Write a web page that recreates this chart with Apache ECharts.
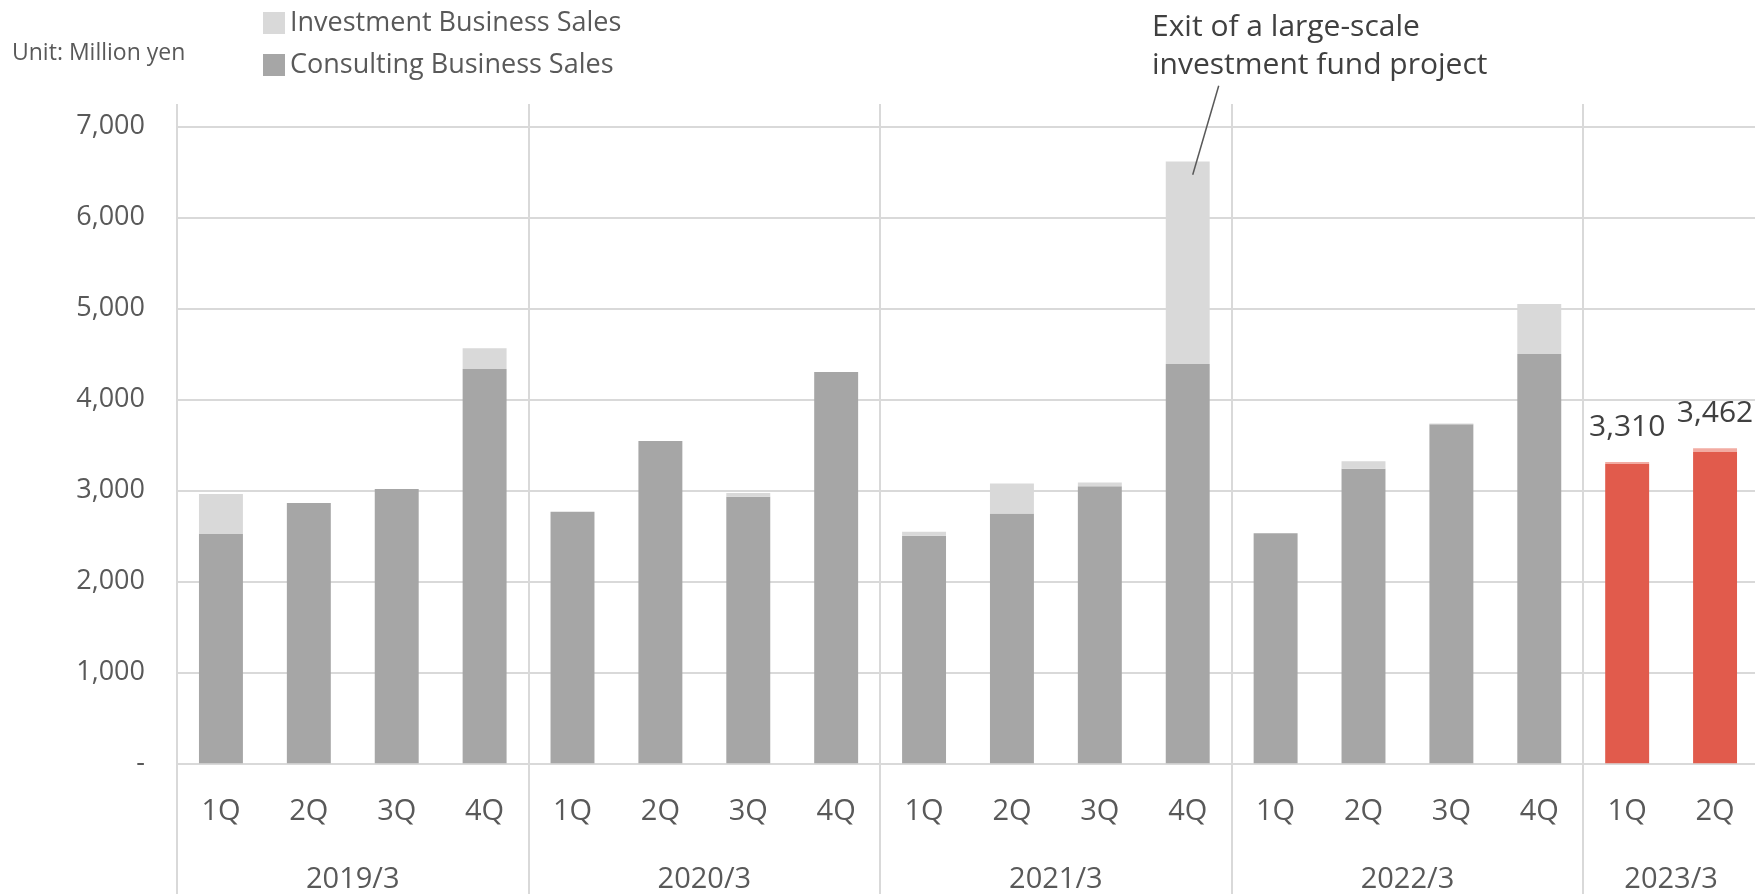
<!DOCTYPE html>
<html>
<head>
<meta charset="utf-8">
<style>
  html, body { margin: 0; padding: 0; background: #ffffff; }
  #chart { width: 1755px; height: 894px; }
</style>
<script src="https://cdn.jsdelivr.net/npm/echarts@6/dist/echarts.min.js"></script>
</head>
<body>
<div id="chart"></div>
<script>
// ---- data ----
const quarters = ['1Q','2Q','3Q','4Q','1Q','2Q','3Q','4Q','1Q','2Q','3Q','4Q','1Q','2Q','3Q','4Q','1Q','2Q'];
const years = ['2019/3','2020/3','2021/3','2022/3','2023/3'];
const yearSizes = [4, 4, 4, 4, 2];
const consulting = [2520, 2860, 3015, 4333, 2765, 3542, 2930, 4300, 2500, 2745, 3045, 4388, 2527, 3237, 3725, 4498, 3290, 3420];
const investment = [440, 0, 0, 227, 0, 0, 40, 0, 45, 330, 40, 2225, 0, 82, 10, 549, 20, 42];
const highlightFrom = 16; // current fiscal year quarters shown in red
const annotationText = 'Exit of a large-scale\ninvestment fund project';
const annotationIndex = 11;

const FONT = '"Open Sans", "Noto Sans", sans-serif';
const GRAY_DARK = '#a6a6a6', GRAY_LIGHT = '#d9d9d9', RED = '#e15b4c', RED_LIGHT = '#f2aba2';
const GRID_LINE = '#d9d9d9';

// year label positions (midpoints of groups, in category units)
const yearPos = [];
let acc = 0;
yearSizes.forEach(s => { yearPos.push(acc + s / 2); acc += s; });
const nCat = quarters.length;

const totals = consulting.map((v, i) => v + investment[i]);

const consultingData = consulting.map((v, i) => i >= highlightFrom ? { value: v, itemStyle: { color: RED } } : v);
const investmentData = investment.map((v, i) => {
  if (i >= highlightFrom) {
    return { value: v, itemStyle: { color: RED_LIGHT },
      label: { show: true, position: 'top', distance: 20, formatter: () => totals[i].toLocaleString('en-US'),
               fontSize: 30, color: '#404040', fontFamily: FONT } };
  }
  return v;
});

const GL = 177, GR = -4;

const chart = echarts.init(document.getElementById('chart'), null, { renderer: 'canvas' });
const option = {
  animation: false,
  backgroundColor: '#ffffff',
  textStyle: { fontFamily: FONT },
  title: {
    text: 'Unit: Million yen', left: 12, top: 42, padding: 0,
    textStyle: { fontSize: 23, fontWeight: 'normal', color: '#595959', fontFamily: FONT }
  },
  legend: {
    orient: 'vertical', left: 263, top: 8, padding: 0,
    itemWidth: 22, itemHeight: 22, itemGap: 12, icon: 'rect',
    data: ['Investment Business Sales', 'Consulting Business Sales'],
    textStyle: { fontSize: 27, color: '#595959', lineHeight: 30, fontFamily: FONT }
  },
  grid: [
    { left: GL, right: GR, top: 126.3, bottom: 894 - 763.3, containLabel: false, outerBoundsMode: 'none' },
    { left: GL, right: GR, top: 104, bottom: 0, containLabel: false, outerBoundsMode: 'none' }
  ],
  xAxis: [
    {
      type: 'category', gridIndex: 0, data: quarters, position: 'bottom',
      axisLine: { show: false }, axisTick: { show: false },
      axisLabel: { fontSize: 29, color: '#595959', margin: 34, interval: 0, fontFamily: FONT },
      splitLine: { show: false }
    },
    {
      type: 'value', gridIndex: 0, min: 0, max: nCat, interval: 1, position: 'bottom',
      axisLine: { show: false }, axisTick: { show: false }, splitLine: { show: false },
      axisLabel: {
        fontSize: 29, color: '#595959', margin: 102, fontFamily: FONT,
        showMinLabel: true, showMaxLabel: true,
        formatter: v => { const k = yearPos.indexOf(v); return k >= 0 ? years[k] : ''; }
      }
    },
    {
      type: 'value', gridIndex: 1, min: 0, max: nCat, interval: 4, position: 'bottom',
      axisLine: { show: false }, axisTick: { show: false }, axisLabel: { show: false },
      splitLine: { show: true, showMaxLine: false, lineStyle: { color: GRID_LINE, width: 2 } }
    }
  ],
  yAxis: [
    {
      type: 'value', gridIndex: 0, min: 0, max: 7000, interval: 1000,
      axisLine: { show: false }, axisTick: { show: false },
      splitLine: { show: true, lineStyle: { color: GRID_LINE, width: 2 } },
      axisLabel: {
        fontSize: 27, color: '#595959', margin: 32, fontFamily: FONT,
        formatter: v => v === 0 ? '-' : v.toLocaleString('en-US')
      }
    },
    { type: 'value', gridIndex: 1, min: 0, max: 1, show: false }
  ],
  series: [
    {
      name: 'Consulting Business Sales', type: 'bar', stack: 'total',
      xAxisIndex: 0, yAxisIndex: 0, barWidth: '50%',
      itemStyle: { color: GRAY_DARK }, data: consultingData, z: 3
    },
    {
      name: 'Investment Business Sales', type: 'bar', stack: 'total',
      xAxisIndex: 0, yAxisIndex: 0, barWidth: '50%',
      itemStyle: { color: GRAY_LIGHT }, data: investmentData, z: 3
    }
  ]
};
chart.setOption(option);

// annotation anchored to the highlighted bar
const tip = chart.convertToPixel({ xAxisIndex: 0, yAxisIndex: 0 }, [annotationIndex, totals[annotationIndex] - 145]);
chart.setOption({
  graphic: [
    {
      type: 'text', left: 1152, top: 8,
      style: { text: annotationText, fontSize: 30, lineHeight: 38, fill: '#404040', fontFamily: FONT }
    },
    {
      type: 'line', z: 10,
      shape: { x1: tip[0] + 31, y1: tip[1] - 89, x2: tip[0] + 5, y2: tip[1] },
      style: { stroke: '#595959', lineWidth: 1.5 }
    }
  ]
});
</script>
</body>
</html>
